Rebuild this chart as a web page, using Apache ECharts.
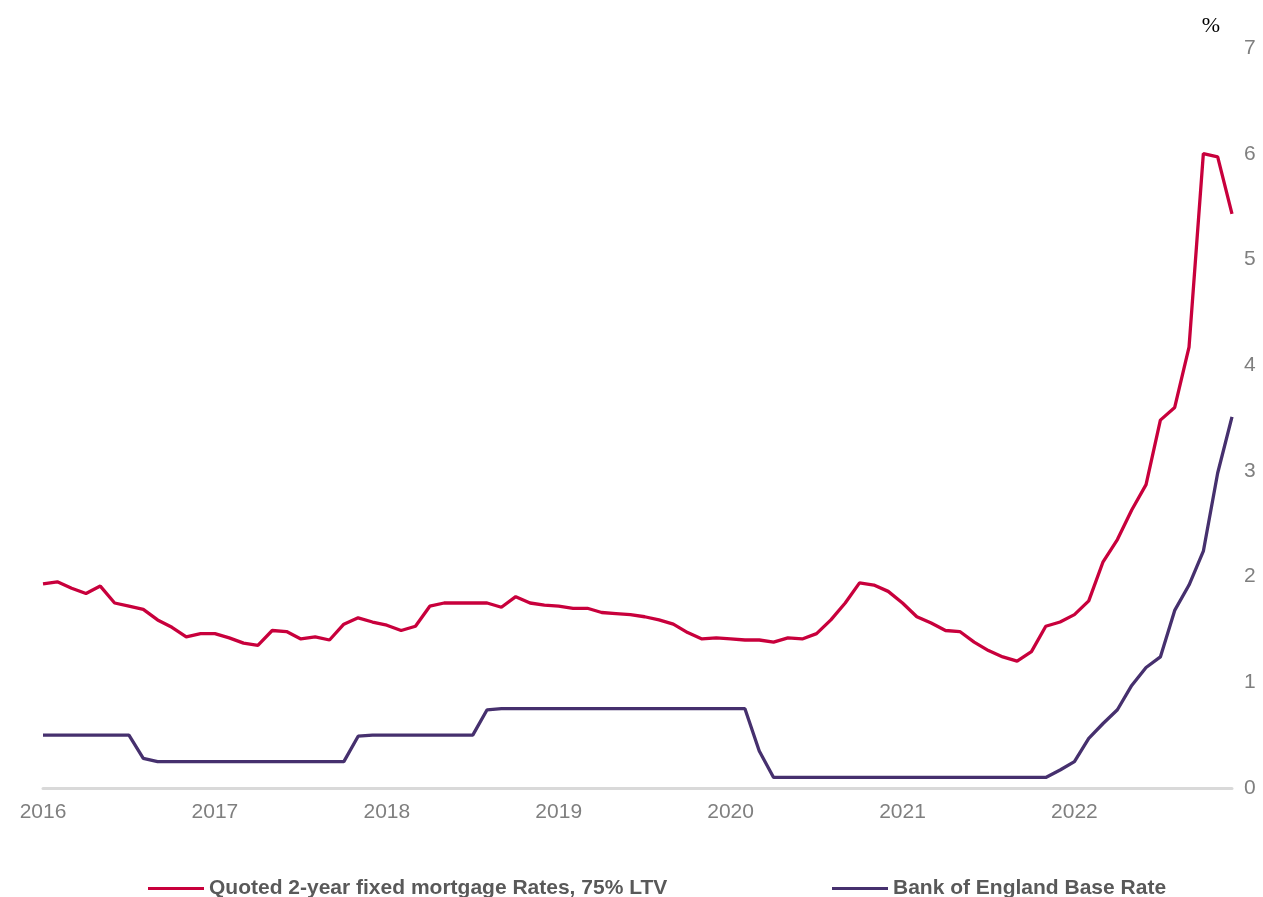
<!DOCTYPE html>
<html>
<head>
<meta charset="utf-8">
<script src="https://cdn.jsdelivr.net/npm/echarts@6/dist/echarts.min.js"></script>
<style>html,body{margin:0;padding:0;background:#fff;}#c{width:1263px;height:897px;}</style>
</head>
<body>
<div id="c"></div>
<script>
var years = ['2016','2017','2018','2019','2020','2021','2022'];
var months = [];
years.forEach(function(y){ for (var m = 1; m <= 12; m++) months.push(y + '-' + (m < 10 ? '0' + m : m)); });

var mortgageRates = [
  1.93,1.95,1.89,1.84,1.91,1.75,1.72,1.69,1.59,1.52,1.43,1.46,
  1.46,1.42,1.37,1.35,1.49,1.48,1.41,1.43,1.40,1.55,1.61,1.57,
  1.54,1.49,1.53,1.72,1.75,1.75,1.75,1.75,1.71,1.81,1.75,1.73,
  1.72,1.70,1.70,1.66,1.65,1.64,1.62,1.59,1.55,1.47,1.41,1.42,
  1.41,1.40,1.40,1.38,1.42,1.41,1.46,1.59,1.75,1.94,1.92,1.86,
  1.75,1.62,1.56,1.49,1.48,1.38,1.30,1.24,1.20,1.29,1.53,1.57,
  1.64,1.77,2.14,2.35,2.63,2.87,3.48,3.60,4.17,6.00,5.97,5.43
];
var baseRate = [
  0.50,0.50,0.50,0.50,0.50,0.50,0.50,0.28,0.25,0.25,0.25,0.25,
  0.25,0.25,0.25,0.25,0.25,0.25,0.25,0.25,0.25,0.25,0.49,0.50,
  0.50,0.50,0.50,0.50,0.50,0.50,0.50,0.74,0.75,0.75,0.75,0.75,
  0.75,0.75,0.75,0.75,0.75,0.75,0.75,0.75,0.75,0.75,0.75,0.75,
  0.75,0.75,0.35,0.10,0.10,0.10,0.10,0.10,0.10,0.10,0.10,0.10,
  0.10,0.10,0.10,0.10,0.10,0.10,0.10,0.10,0.10,0.10,0.10,0.17,
  0.25,0.47,0.61,0.74,0.97,1.14,1.24,1.68,1.92,2.24,2.98,3.51
];
var seriesNames = ['Quoted 2-year fixed mortgage Rates, 75% LTV', 'Bank of England Base Rate'];
var yTicks = [0,1,2,3,4,5,6,7];

var chart = echarts.init(document.getElementById('c'), null, {renderer:'canvas'});
var legendText = {color:'#595959', fontSize:21, fontWeight:'bold', fontFamily:'Liberation Sans, Arial, sans-serif'};
chart.setOption({
  animation: false,
  backgroundColor: '#ffffff',
  grid: {left: 43, right: 31, top: 48, bottom: 109, containLabel: false},
  title: {text: '%', right: 38, top: 10, textStyle: {color:'#000', fontSize:22, fontWeight:'normal', fontFamily:'Liberation Serif, Times New Roman, serif'}},
  legend: [
    {data:[seriesNames[0]], left: 148, top: 878, itemWidth: 56, itemHeight: 3, itemGap: 4, icon: 'rect', textStyle: legendText, padding: 0},
    {data:[seriesNames[1]], left: 832, top: 878, itemWidth: 56, itemHeight: 3, itemGap: 4, icon: 'rect', textStyle: legendText, padding: 0}
  ],
  xAxis: {
    type: 'category', data: months, boundaryGap: false,
    axisLine: {show: true, lineStyle: {color:'#d9d9d9', width: 3}},
    axisTick: {show: false},
    splitLine: {show: false},
    axisLabel: {
      interval: function(i){ return i % 12 === 0; },
      formatter: function(v){ return v.slice(0,4); },
      color:'#7f7f7f', fontSize:21, margin: 14, fontFamily:'Liberation Sans, Arial, sans-serif'
    }
  },
  yAxis: {
    type: 'value', position: 'right', min: yTicks[0], max: yTicks[yTicks.length-1], interval: 1,
    axisLine: {show: false}, axisTick: {show: false}, splitLine: {show: false},
    axisLabel: {color:'#7f7f7f', fontSize:21, margin: 12, fontFamily:'Liberation Sans, Arial, sans-serif'}
  },
  series: [
    {name: seriesNames[0], type:'line', data: mortgageRates, showSymbol:false, symbol:'none', lineStyle:{color:'#c8003c', width:3.3}, itemStyle:{color:'#c8003c'}},
    {name: seriesNames[1], type:'line', data: baseRate, showSymbol:false, symbol:'none', lineStyle:{color:'#46306e', width:3.3}, itemStyle:{color:'#46306e'}}
  ]
});
</script>
</body>
</html>
